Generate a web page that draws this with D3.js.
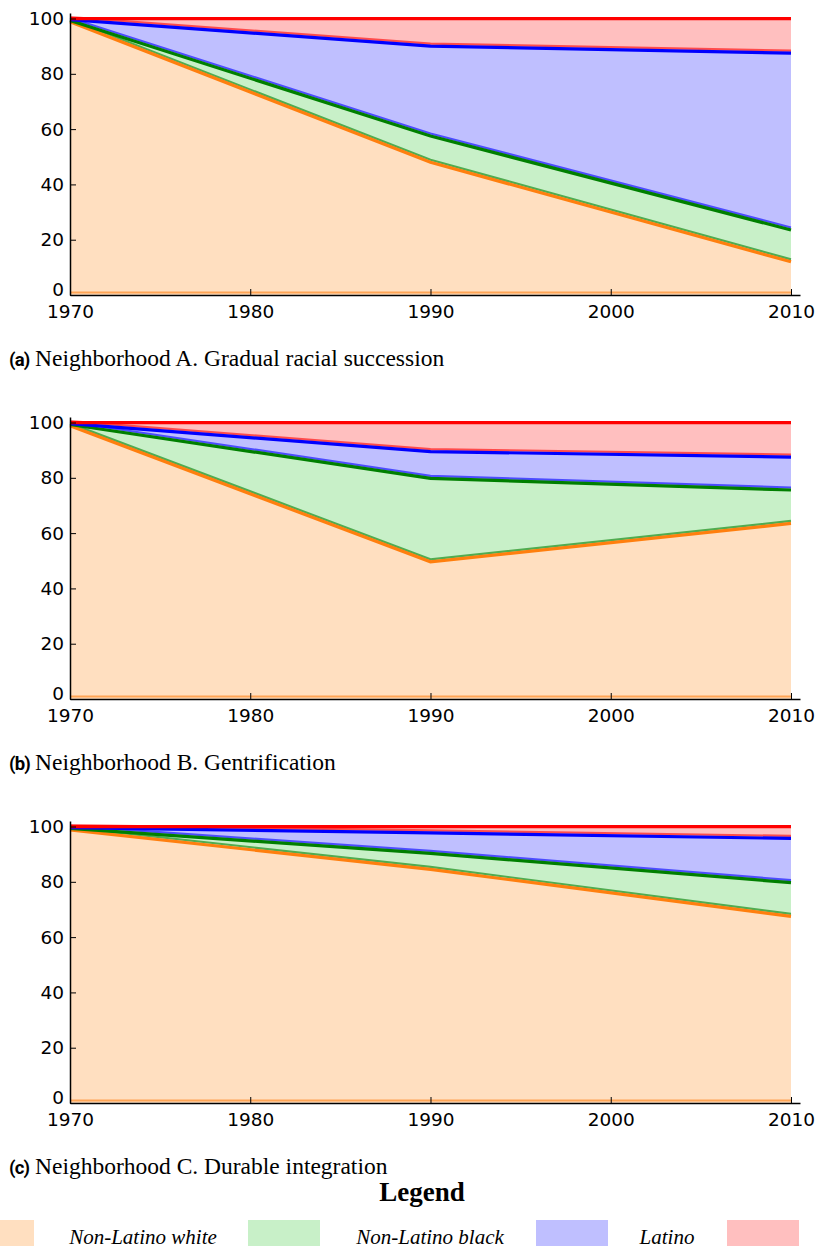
<!DOCTYPE html>
<html>
<head>
<meta charset="utf-8">
<script src="https://cdn.jsdelivr.net/npm/d3@7"></script>
<style>
  body { margin: 0; background: #fff; }
  svg { display: block; }
</style>
</head>
<body>
<div id="chart"></div>
<script>
// data (percent of residents)
const years = [1970, 1990, 2010];
const groups = ['Non-Latino white', 'Non-Latino black', 'Latino', 'Other'];
const xTicks = [1970, 1980, 1990, 2000, 2010];
const yTicks = [0, 20, 40, 60, 80, 100];

const aWhite = [98.8, 48, 12];
const aBlack = [0.5, 9.5, 11.5];
const aLatino = [0.3, 32.5, 64];
const aOther = [0.4, 10, 12.5];

const bWhite = [98.8, 49.6, 63.5];
const bBlack = [0.5, 30.2, 12.1];
const bLatino = [0.3, 9.7, 11.9];
const bOther = [0.4, 10.5, 12.5];

const cWhite = [98.8, 84.5, 67.5];
const cBlack = [0.5, 5.8, 12.2];
const cLatino = [0.3, 7.4, 16];
const cOther = [0.4, 2.3, 4.3];

const panels = [
  { tag: '(a)', title: 'Neighborhood A. Gradual racial succession', base: 295, values: [aWhite, aBlack, aLatino, aOther] },
  { tag: '(b)', title: 'Neighborhood B. Gentrification', base: 699, values: [bWhite, bBlack, bLatino, bOther] },
  { tag: '(c)', title: 'Neighborhood C. Durable integration', base: 1103, values: [cWhite, cBlack, cLatino, cOther] }
];

const fillColors = ['#ffdfc0', '#c8f0c8', '#bfbfff', '#ffbfbf'];
const lineColors = ['#ff7f0e', '#007f00', '#0000ff', '#ff0000'];

const W = 820, H = 1249;
const svg = d3.select('#chart').append('svg')
  .attr('width', W)
  .attr('height', H)
  .attr('viewBox', `0 0 ${W} ${H}`);

const x = d3.scaleLinear().domain([1970, 2010.5]).range([70, 800]);

panels.forEach(p => {
  const y = d3.scaleLinear().domain([0, 102]).range([p.base, p.base - 282]);
  const g = svg.append('g');

  // table the stack wants
  const rows = years.map((yr, i) => {
    const r = { year: yr };
    groups.forEach((k, j) => { r[k] = p.values[j][i]; });
    return r;
  });
  const stacked = d3.stack().keys(groups)(rows);

  const area = d3.area()
    .x(d => x(d.data.year))
    .y0(d => y(d[0]))
    .y1(d => y(d[1]));
  const lower = d3.line().x(d => x(d.data.year)).y(d => y(d[0]));
  const upper = d3.line().x(d => x(d.data.year)).y(d => y(d[1]));

  g.selectAll('path.band')
    .data(stacked)
    .join('path')
    .attr('class', 'band')
    .attr('d', area)
    .attr('fill', (d, i) => fillColors[i]);

  // thin edge under each band
  g.selectAll('path.edge')
    .data(stacked)
    .join('path')
    .attr('class', 'edge')
    .attr('d', lower)
    .attr('transform', 'translate(0,-2.5)')
    .attr('fill', 'none')
    .attr('stroke', (d, i) => lineColors[i])
    .attr('stroke-opacity', 0.6)
    .attr('stroke-width', 2.2);

  // thick line on top of each band
  g.selectAll('path.top')
    .data(stacked)
    .join('path')
    .attr('class', 'top')
    .attr('d', upper)
    .attr('fill', 'none')
    .attr('stroke', (d, i) => lineColors[i])
    .attr('stroke-width', 3.2);

  // axes: left and bottom spines, ticks inward
  const yAxis = g.append('g')
    .attr('transform', `translate(${x(1970)},0)`)
    .call(d3.axisLeft(y).tickValues(yTicks).tickSize(-6).tickPadding(6).tickSizeOuter(0));
  yAxis.select('.domain').attr('stroke-width', 1.5);
  yAxis.selectAll('text')
    .attr('font-family', 'DejaVu Sans')
    .attr('font-size', 18.5)
    .attr('fill', '#000');
  // the 0 label sits a little high so it clears the 1970 label
  yAxis.selectAll('.tick').filter(d => d === 0).select('text').attr('dy', '0.05em');

  const xAxis = g.append('g')
    .attr('transform', `translate(0,${p.base})`)
    .call(d3.axisBottom(x).tickValues(xTicks).tickFormat(d3.format('d')).tickSize(-6).tickPadding(10).tickSizeOuter(0));
  xAxis.select('.domain').attr('stroke-width', 1.5);
  xAxis.selectAll('text')
    .attr('font-family', 'DejaVu Sans')
    .attr('font-size', 18.5)
    .attr('fill', '#000');

  // caption
  const cap = svg.append('text')
    .attr('x', 9)
    .attr('y', p.base + 71);
  cap.append('tspan')
    .attr('font-family', 'Roboto')
    .attr('font-weight', 'bold')
    .attr('font-size', 18.5)
    .attr('letter-spacing', -0.8)
    .text(p.tag);
  cap.append('tspan')
    .attr('x', 35)
    .attr('font-family', 'Liberation Serif')
    .attr('font-size', 23.5)
    .text(p.title);
});

// legend
svg.append('text')
  .attr('x', 422)
  .attr('y', 1201)
  .attr('text-anchor', 'middle')
  .attr('font-family', 'Liberation Serif')
  .attr('font-weight', 'bold')
  .attr('font-size', 27)
  .text('Legend');

const swatchX = [-38, 248, 536, 727];
const labelX = [143, 430, 667];

svg.selectAll('rect.swatch')
  .data(groups)
  .join('rect')
  .attr('class', 'swatch')
  .attr('x', (d, i) => swatchX[i])
  .attr('y', 1220)
  .attr('width', 72)
  .attr('height', 26)
  .attr('fill', (d, i) => fillColors[i]);

svg.selectAll('text.legend-label')
  .data(groups.slice(0, 3))
  .join('text')
  .attr('class', 'legend-label')
  .attr('x', (d, i) => labelX[i])
  .attr('y', 1244)
  .attr('text-anchor', 'middle')
  .attr('font-family', 'Liberation Serif')
  .attr('font-style', 'italic')
  .attr('font-size', 21)
  .text(d => d);
</script>
</body>
</html>
